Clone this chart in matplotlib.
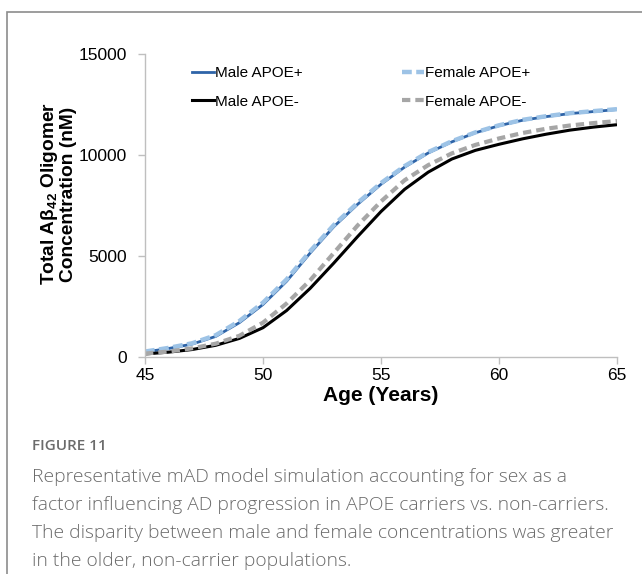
import matplotlib
matplotlib.use("Agg")
import matplotlib.pyplot as plt
from matplotlib.patches import Rectangle

ages = list(range(45, 66))
male_apoe_pos = [250, 420, 640, 1020, 1700, 2600, 3750, 5150, 6450, 7550, 8550,
                 9400, 10100, 10650, 11100, 11450, 11720, 11900, 12050, 12150, 12250]
female_apoe_pos = [270, 450, 680, 1080, 1780, 2690, 3840, 5240, 6530, 7620, 8610,
                   9450, 10140, 10680, 11120, 11470, 11740, 11920, 12070, 12170, 12270]
male_apoe_neg = [150, 240, 370, 580, 920, 1450, 2300, 3400, 4650, 5950, 7200,
                 8300, 9150, 9800, 10230, 10530, 10800, 11030, 11230, 11380, 11500]
female_apoe_neg = [170, 270, 430, 660, 1050, 1700, 2650, 3800, 5150, 6500, 7700,
                   8750, 9500, 10080, 10500, 10820, 11090, 11300, 11460, 11580, 11680]

x_ticks = [45, 50, 55, 60, 65]
y_ticks = [0, 5000, 10000, 15000]

plt.rcParams['font.family'] = ['Liberation Sans', 'DejaVu Sans']
plt.rcParams['mathtext.fontset'] = 'custom'
plt.rcParams['mathtext.rm'] = 'Liberation Sans'
plt.rcParams['mathtext.bf'] = 'Liberation Sans:bold'
plt.rcParams['mathtext.it'] = 'Liberation Sans:italic'

W, H = 642, 574
fig = plt.figure(figsize=(W / 100, H / 100), dpi=100)
ax = fig.add_axes([145 / W, 1 - 357 / H, (617 - 145) / W, (357 - 54) / H])

h1, = ax.plot(ages, male_apoe_pos, color='#2e64a8', lw=2.0, label='Male APOE+')
h2, = ax.plot(ages, female_apoe_pos, color='#9dc3e6', lw=3.2, ls=(0, (2.2, 1.0)), label='Female APOE+')
h3, = ax.plot(ages, male_apoe_neg, color='#000000', lw=2.2, label='Male APOE-')
h4, = ax.plot(ages, female_apoe_neg, color='#a6a6a6', lw=3.0, ls=(0, (2.0, 1.2)), label='Female APOE-')

ax.set_xlim(45, 65)
ax.set_ylim(0, 15000)
ax.set_xticks(x_ticks)
ax.set_yticks(y_ticks)
ax.tick_params(axis='both', labelsize=12.5, colors='#bfbfbf', labelcolor='#000000',
               width=1, direction='out')
ax.tick_params(axis='x', length=5, pad=3)
ax.tick_params(axis='y', length=5, pad=8)
for s in ['top', 'right']:
    ax.spines[s].set_visible(False)
for s in ['left', 'bottom']:
    ax.spines[s].set_color('#bfbfbf')
    ax.spines[s].set_linewidth(1)

ax.set_xlabel('Age (Years)', fontsize=15, fontweight='bold', labelpad=2)
ax.set_ylabel('Total A\u03b2$_{\\mathbf{42}}$ Oligomer\nConcentration (nM)', fontsize=13.8,
              fontweight='bold', linespacing=1.0)
ax.yaxis.set_label_coords((77 - 145) / (617 - 145), (357 - 194) / (357 - 54))

leg = ax.legend(handles=[h1, h3, h2, h4], ncol=2, loc='upper left',
                bbox_to_anchor=((192 - 145) / (617 - 145), 1 - (66 - 54) / (357 - 54)),
                frameon=False, fontsize=11, handlelength=1.45, handletextpad=0.05,
                columnspacing=6.5, labelspacing=0.95, borderpad=0, borderaxespad=0)

# outer frame
fig.patches.append(Rectangle((7 / W, -0.05), 1.1, 1 - 12 / H + 0.05, transform=fig.transFigure,
                             fill=False, edgecolor='#8c8c8c', lw=1.2))

cap_color = '#6b6b6b'
fig.text(32 / W, 1 - 446 / H, 'FIGURE 11', fontsize=11, color=cap_color,
         family='Open Sans', fontweight='semibold', va='center')
caption = ["Representative mAD model simulation accounting for sex as a",
           "factor influencing AD progression in APOE carriers vs. non-carriers.",
           "The disparity between male and female concentrations was greater",
           "in the older, non-carrier populations."]
for i, line in enumerate(caption):
    fig.text(32 / W, 1 - (477 + 28 * i) / H, line, fontsize=13.9, color=cap_color,
             family='Open Sans', fontweight='light', va='center')

fig.savefig('out.png', dpi=100)
